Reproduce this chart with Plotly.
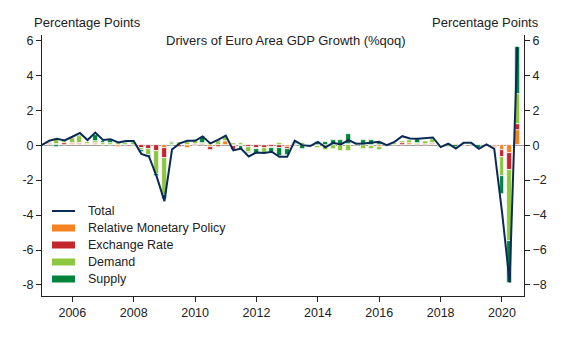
import pandas as pd
import plotly.graph_objects as go

quarters = pd.date_range(start="2005-01-01", periods=63, freq="QS").strftime("%Y-%m-%d").tolist()

total = [0.0, 0.25, 0.36, 0.27, 0.48, 0.70, 0.29, 0.72, 0.29, 0.34, 0.15, 0.23,
         0.23, -0.50, -0.65, -1.80, -3.20, -0.25, 0.10, 0.25, 0.25, 0.50, 0.10, 0.30,
         0.55, -0.30, -0.20, -0.65, -0.42, -0.45, -0.38, -0.67, -0.67, 0.25, 0.00, -0.05,
         0.19, -0.13, 0.13, 0.04, 0.29, 0.08, 0.10, 0.13, 0.19, 0.00, 0.19, 0.51,
         0.38, 0.36, 0.38, 0.44, -0.11, 0.08, -0.19, 0.13, 0.13, -0.21, 0.04, -0.21,
         -3.80, -7.85, 5.62]

monetary = [0, 0.05, 0, 0, 0.05, 0.05, 0.05, 0.05, 0, 0, -0.1, 0,
            0, 0, 0, 0, -0.15, 0, 0, -0.15, -0.05, 0, -0.1, 0,
            0.25, -0.05, -0.05, 0, 0, 0, 0, 0, -0.1, 0, 0, 0,
            -0.05, 0, 0, 0, 0, 0, 0, -0.05, -0.1, 0, 0, 0,
            0.1, 0, 0, 0.05, -0.05, 0, 0, 0, 0, 0, 0.05, -0.1,
            -0.3, -0.45, 0.85]

exchange = [0, 0.1, 0.05, 0.1, 0.05, 0.05, 0, 0.05, 0, 0, 0, 0,
            0, -0.15, -0.2, -0.35, -0.6, 0, -0.1, 0, 0.05, 0.05, -0.15, -0.1,
            0, -0.2, 0, -0.1, -0.15, -0.15, -0.1, -0.15, -0.1, 0, 0, 0,
            0, 0, 0, 0, 0.05, 0, 0, 0, 0, 0, 0, 0.1,
            0, 0.05, 0.05, 0.1, 0, 0, 0.05, -0.05, 0, 0, -0.05, -0.05,
            -0.35, -1.0, 0.35]

demand = [0.05, 0.05, 0.3, 0.15, 0.3, 0.45, 0.15, 0.15, 0.1, 0.1, 0.1, 0.15,
          0.2, -0.15, -0.35, -1.3, -2.1, 0.1, 0.2, 0.2, 0.2, 0.1, 0.1, 0.25,
          0.3, 0.1, 0.1, -0.3, -0.05, -0.3, -0.05, 0.15, 0, 0.05, 0.1, 0.05,
          -0.1, -0.3, -0.2, -0.35, -0.35, 0.05, -0.2, -0.15, -0.15, 0.05, 0.15, 0.15,
          0.2, 0.1, 0.2, 0.2, 0, -0.1, 0, 0, 0.05, 0, 0, 0,
          -1.1, -4.05, 1.75]

supply = [-0.05, 0, -0.1, 0.05, 0, 0.05, 0, 0.35, 0.15, 0.2, 0, 0.05,
          0, -0.1, -0.1, -0.1, -0.25, 0.1, 0, 0.05, 0.05, 0.3, 0, 0.05,
          0, 0, -0.2, -0.05, -0.3, 0, -0.25, -0.45, -0.35, 0.05, -0.2, 0,
          0.2, 0.2, 0.3, 0.3, 0.6, 0.05, 0.3, 0.3, 0.15, 0, 0, 0,
          0, 0.2, 0, 0, -0.05, 0.05, -0.1, 0, 0, -0.15, 0, 0,
          -1.05, -2.4, 2.65]

series = [
    ("Relative Monetary Policy", monetary, "#F58220"),
    ("Exchange Rate", exchange, "#C4262E"),
    ("Demand", demand, "#8DC63F"),
    ("Supply", supply, "#00843D"),
]
legend_labels = ["Total"] + [s[0] for s in series]

NAVY = "#0B2A55"
FONT = "Liberation Sans, Arial, sans-serif"
BAR_W = 5.1e9

fig = go.Figure()
for name, vals, col in series:
    fig.add_trace(go.Bar(x=quarters, y=vals, name=name, marker_color=col,
                         marker_line_color="white", marker_line_width=0.7,
                         width=BAR_W, showlegend=False))

fig.add_trace(go.Scatter(x=quarters, y=total, mode="lines", name="Total",
                         line=dict(color=NAVY, width=2), showlegend=False))
fig.add_trace(go.Scatter(x=quarters, y=total, mode="lines", yaxis="y2",
                         line=dict(color="rgba(0,0,0,0)", width=0),
                         showlegend=False, hoverinfo="skip"))

# manual legend (paper coordinates of the plot area: 482 x 261 px)
PW, PH = 482.0, 261.0
def px(xp):
    return (xp - 42) / PW
def py(yp):
    return (296 - yp) / PH

shapes = []
annots = []
for i, lab in enumerate(legend_labels):
    yc = 211 + 17 * i
    if i == 0:
        shapes.append(dict(type="line", xref="paper", yref="paper",
                           x0=px(52), x1=px(75), y0=py(yc), y1=py(yc),
                           line=dict(color=NAVY, width=2)))
    else:
        shapes.append(dict(type="rect", xref="paper", yref="paper",
                           x0=px(52), x1=px(75), y0=py(yc - 3.5), y1=py(yc + 3.5),
                           fillcolor=series[i - 1][2], line=dict(width=0)))
    annots.append(dict(text=lab, xref="paper", yref="paper", x=px(86), y=py(yc),
                       xanchor="left", yanchor="middle", showarrow=False,
                       font=dict(size=12.5)))

annots += [
    dict(text="Percentage Points", xref="paper", yref="paper", x=px(32), y=py(22),
         xanchor="left", yanchor="middle", showarrow=False, font=dict(size=13)),
    dict(text="Percentage Points", xref="paper", yref="paper", x=px(541), y=py(22),
         xanchor="right", yanchor="middle", showarrow=False, font=dict(size=13)),
    dict(text="Drivers of Euro Area GDP Growth (%qoq)", xref="paper", yref="paper",
         x=px(286), y=py(40), xanchor="center", yanchor="middle", showarrow=False,
         font=dict(size=13)),
]

yr = [-8.63, 6.3]
tv = [-8, -6, -4, -2, 0, 2, 4, 6]
fig.update_layout(
    width=564, height=345,
    margin=dict(l=42, r=40, t=35, b=49),
    paper_bgcolor="white", plot_bgcolor="white",
    barmode="relative", bargap=0, showlegend=False,
    font=dict(family=FONT, size=12, color="#222222"),
    xaxis=dict(type="date", range=["2005-01-05", "2020-09-19"],
               tick0="2006-01-01", dtick="M24", tickformat="%Y",
               showgrid=False, zeroline=False, showline=True, linecolor="#222222",
               linewidth=1, ticks="outside", ticklen=5, tickcolor="#222222",
               tickfont=dict(size=12.5)),
    yaxis=dict(range=yr, tickvals=tv, ticktext=[str(v) for v in tv],
               showgrid=False, zeroline=True, zerolinecolor="#999999", zerolinewidth=1,
               showline=True, linecolor="#222222", linewidth=1,
               ticks="outside", ticklen=5, tickcolor="#222222", tickfont=dict(size=12.5)),
    yaxis2=dict(range=yr, overlaying="y", side="right", tickvals=tv,
                ticktext=[str(v).replace("-", "\u2212") for v in tv],
                showgrid=False, zeroline=False, showline=True, linecolor="#222222",
                linewidth=1, ticks="outside", ticklen=5, tickcolor="#222222",
                tickfont=dict(size=12.5)),
    shapes=shapes,
    annotations=annots,
)

fig.write_html("out.html")
